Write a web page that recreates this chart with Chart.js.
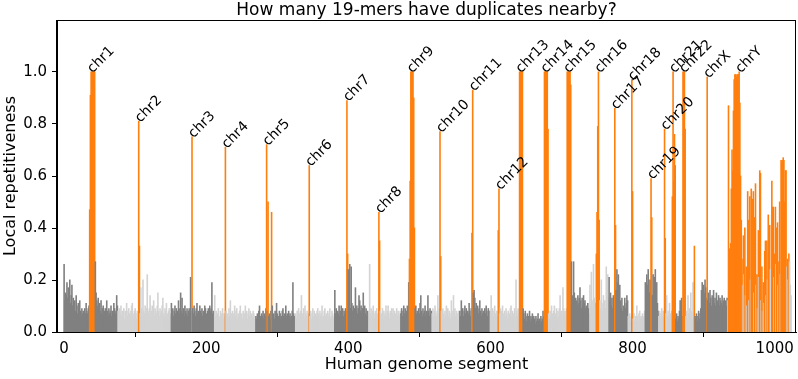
<!DOCTYPE html>
<html>
<head>
<meta charset="utf-8">
<script src="https://cdn.jsdelivr.net/npm/chart.js@4.4.1/dist/chart.umd.min.js"></script>
<style>
  html, body { margin: 0; padding: 0; background: #fff; }
  canvas { display: block; }
</style>
</head>
<body>
<canvas id="chart" width="798" height="379"></canvas>
<script>
// Chromosomes in genome order, and how many segments each one spans
const chromNames = ["chr1","chr2","chr3","chr4","chr5","chr6","chr7","chr8","chr9","chr10","chr11","chr12",
                    "chr13","chr14","chr15","chr16","chr17","chr18","chr19","chr20","chr21","chr22","chrX","chrY"];
const chromSizes = [76,75,61,58,56,55,48,45,44,39,43,41,35,32,32,27,27,24,19,19,15,17,46,90];

// Local repetitiveness of each segment, in hundredths (one row per chromosome)
const repetitiveness = [
  /* chr1  */ 26,12,15,14,19,13,17,12,20,11,14,18,10,13,9,12,8,14,10,7,11,9,12,8,6,9,7,8,6,9,7,11,8,7,9,10,
              47,91,100,100,100,100,100,100,27,15,12,10,13,9,11,8,12,7,9,10,6,8,9,7,12,8,6,9,7,8,10,6,8,7,11,9,7,8,14,10,
  /* chr2  */ 8,6,9,7,10,6,8,7,9,5,8,7,11,6,8,9,7,6,8,10,11,7,6,8,9,7,5,8,6,81,33,7,17,9,6,20,8,7,10,6,
              9,22,8,7,9,14,6,8,10,7,12,6,9,8,7,10,15,8,6,9,7,8,10,13,7,6,9,8,11,7,6,8,9,7,6,
  /* chr3  */ 11,7,9,6,8,10,7,9,6,8,12,7,9,15,8,13,7,9,6,10,8,7,9,6,8,9,7,21,8,75,9,7,10,8,6,9,11,7,8,6,
              10,8,7,9,6,8,7,10,9,7,6,8,9,7,10,8,9,19,7,8,6,
  /* chr4  */ 14,6,8,5,7,9,6,5,8,7,6,9,5,7,6,71,8,6,7,5,9,6,12,7,5,8,6,7,10,6,8,9,5,7,6,8,10,6,7,5,
              8,6,7,10,6,8,5,7,9,6,8,5,7,6,8,7,5,6,
  /* chr5  */ 6,5,7,6,8,10,6,5,7,6,8,5,7,6,9,72,8,50,6,7,5,8,46,10,6,7,5,8,6,11,7,5,6,8,7,5,6,8,9,6,
              7,5,10,6,7,5,8,6,7,5,6,8,19,7,6,5,
  /* chr6  */ 7,5,8,6,9,7,6,8,14,7,6,9,5,10,7,6,8,5,7,64,6,8,5,7,9,6,8,5,7,6,8,9,7,5,8,6,7,10,5,6,
              8,9,6,7,5,8,6,7,9,5,6,8,7,5,6,
  /* chr7  */ 16,7,9,6,8,7,10,6,8,10,7,9,6,8,7,9,8,89,30,24,12,26,9,25,11,8,10,7,9,17,8,10,7,9,14,12,8,10,7,9,
              15,8,10,7,9,6,8,7,
  /* chr8  */ 8,26,7,9,6,8,10,7,5,8,6,9,7,5,46,35,8,6,7,9,5,8,6,7,10,6,8,10,7,5,8,6,9,7,9,6,8,7,5,9,
              6,8,7,6,8,
  /* chr9  */ 7,9,6,8,10,7,9,6,8,10,7,19,28,58,100,100,100,100,90,40,9,10,7,8,6,9,7,11,14,8,6,9,7,8,10,6,8,7,14,8,
              6,9,7,8,
  /* chr10 */ 7,9,6,8,10,7,6,8,14,7,9,77,29,8,6,9,7,5,8,6,10,7,9,6,8,7,5,12,8,6,14,7,9,6,8,7,5,8,6,
  /* chr11 */ 8,6,12,7,9,6,8,10,7,9,6,8,7,11,8,6,9,38,93,15,16,13,9,11,8,10,7,9,12,8,6,9,7,8,6,9,7,10,8,6,
              9,7,8,
  /* chr12 */ 8,14,7,9,6,8,10,7,5,8,6,39,55,7,9,6,8,10,7,5,8,6,9,7,5,8,6,7,9,10,6,8,5,7,9,6,20,8,6,9,
              7,
  /* chr13 */ 100,100,100,100,100,9,7,5,8,6,4,7,5,6,8,4,6,5,7,4,6,5,3,6,4,5,7,4,5,3,6,4,5,8,6,
  /* chr14 */ 100,100,100,100,100,78,7,5,8,6,10,7,5,8,10,6,7,9,5,8,6,9,14,7,8,6,17,9,7,8,6,9,
  /* chr15 */ 100,100,100,100,100,95,27,14,12,27,15,11,13,12,10,14,11,13,17,12,9,13,10,14,11,12,9,10,8,11,9,7,
  /* chr16 */ 18,10,23,12,9,26,13,8,11,30,46,79,100,43,12,9,20,11,8,14,10,12,9,25,11,22,13,
  /* chr17 */ 21,12,15,10,13,9,14,11,86,41,16,24,19,22,15,18,12,9,13,8,10,7,13,9,11,14,12,
  /* chr18 */ 6,5,7,4,6,97,54,5,7,4,6,5,10,6,4,7,8,5,6,4,7,5,6,8,
  /* chr19 */ 19,16,22,18,24,20,15,20,59,44,14,22,17,21,24,16,19,11,8,
  /* chr20 */ 6,8,5,7,9,6,8,5,78,36,7,14,6,8,5,11,7,6,8,
  /* chr21 */ 52,100,58,76,64,5,7,4,6,5,8,12,7,13,6,
  /* chr22 */ 100,100,100,78,6,8,5,14,7,9,6,15,8,5,19,7,33,
  /* chrX  */ 6,5,7,4,6,8,5,7,9,16,19,14,18,15,20,17,13,98,12,15,11,16,13,10,14,12,16,11,13,10,
              15,12,11,14,10,13,12,11,14,10,12,13,11,12,10,13,
  /* chrY  */ 12,87,32,30,34,55,70,62,85,97,99,99,98,99,99,99,100,88,60,43,28,18,37,22,40,14,25,10,54,43,
              12,52,20,55,30,51,54,15,44,57,18,22,9,39,21,62,61,12,25,8,19,11,31,35,14,35,20,45,37,41,
              24,16,58,48,48,21,30,48,26,40,42,18,27,50,22,66,65,66,67,66,50,62,62,25,28,20,30,27,18,14
];

// Segments drawn in orange (centromeres and satellite arrays)
const centromereSegs = [
  36,37,38,39,40,41,42,43, 105,106, 180, 227, 285,287,292, 345, 398,399, 443,444,
  486,487,488,489,490,491,492,493, 529,530, 574,575, 611,612, 641,642,643,644,645,
  676,677,678,679,680,681, 708,709,710,711,712,713, 749,750,751,752,753, 775,776,
  799,800, 826,827, 845,846, 856,857,858,859,860, 871,872,873,874,887, 905,
  935,936,937,938,939,940,941,942,943,944,945,946,947,948,949,950,951,952,953,954,
  956,958,960,962,963,965,967,968,969,970,972,973,975,977,979,980,982,984,986,987,
  989,991,992,993,996,997,998,1000,1001,1003,1004,1006,1007,1009,1010,1011,1012,
  1013,1014,1015,1016,1018,1020
];

const xTicks = [0, 200, 400, 600, 800, 1000];
const yTicks = [0, 0.2, 0.4, 0.6, 0.8, 1.0];

//====================================
// Bar colours: alternate greys per chromosome, orange for centromere segments
const isCentro = new Set(centromereSegs);
const barColors = [];
let seg = 0;
chromSizes.forEach((n, c) => {
  for (let k = 0; k < n; k++, seg++) {
    barColors.push(isCentro.has(seg) ? '#ff7f0e' : (c % 2 === 0 ? '#808080' : '#d3d3d3'));
  }
});

//====================================
// Plugin: chromosome names on the tallest orange bar + the full axes frame
const chromLabels = {
  id: 'chromLabels',
  afterDatasetsDraw(chart) {
    const {ctx, scales: {x, y}} = chart;
    ctx.save();
    ctx.font = '14px "DejaVu Sans"';
    ctx.fillStyle = '#000';
    ctx.textAlign = 'left';
    ctx.textBaseline = 'alphabetic';
    let start = 0;
    chromNames.forEach((name, c) => {
      let best = -1;
      for (let i = start; i < start + chromSizes[c]; i++) {
        if (isCentro.has(i) && (best < 0 || repetitiveness[i] > repetitiveness[best])) best = i;
      }
      start += chromSizes[c];
      if (best < 0) return;
      const px = x.getPixelForValue(best) + 1.5;
      const py = y.getPixelForValue(repetitiveness[best] / 100) + 1.5;
      ctx.save();
      ctx.translate(px, py);
      ctx.rotate(-Math.PI / 4);
      ctx.fillText(name, 0, 0);
      ctx.restore();
    });
    ctx.restore();
  },
  afterDraw(chart) {
    const {ctx, chartArea: a} = chart;
    ctx.save();
    ctx.strokeStyle = '#000';
    ctx.lineWidth = 1;
    ctx.strokeRect(Math.round(a.left) - 0.5, Math.round(a.top) + 0.5,
                   Math.round(a.right) - Math.round(a.left), Math.round(a.bottom) - Math.round(a.top));
    ctx.restore();
  }
};

Chart.defaults.font.family = '"DejaVu Sans"';
Chart.defaults.color = '#000';

const axisLines = { display: true, drawOnChartArea: false, drawTicks: true, tickLength: 5, color: '#000', lineWidth: 1 };

new Chart(document.getElementById('chart'), {
  type: 'bar',
  data: {
    datasets: [{
      data: repetitiveness.map((v, i) => ({x: i, y: v / 100})),
      backgroundColor: barColors,
      borderWidth: 0,
      barPercentage: 1.0,
      categoryPercentage: 1.0,
      inflateAmount: 0.45
    }]
  },
  options: {
    responsive: false,
    devicePixelRatio: 1,
    animation: false,
    layout: { padding: { left: 0, right: 2, top: 0, bottom: 0 } },
    plugins: {
      legend: { display: false },
      tooltip: { enabled: false },
      title: {
        display: true,
        fullSize: false,
        text: 'How many 19-mers have duplicates nearby?',
        font: { size: 17, weight: 'normal', lineHeight: 1 },
        color: '#000',
        padding: { top: 2, bottom: 1 }
      }
    },
    scales: {
      x: {
        type: 'linear',
        min: -10, max: 1030,
        offset: false,
        afterFit(s) { s.height = 47; },
        afterBuildTicks(s) { s.ticks = xTicks.map(v => ({value: v})); },
        ticks: { font: { size: 15 }, padding: 3, maxRotation: 0, autoSkip: false, callback: v => String(v) },
        grid: axisLines,
        border: { display: true, color: '#000', width: 1 },
        title: { display: true, text: 'Human genome segment', font: { size: 16 }, padding: { top: 0, bottom: 5 } }
      },
      y: {
        min: 0, max: 1.2,
        afterFit(s) { s.width = 57; },
        afterBuildTicks(s) { s.ticks = yTicks.map(v => ({value: v})); },
        ticks: { font: { size: 15 }, padding: 5, callback: v => v.toFixed(1) },
        grid: axisLines,
        border: { display: true, color: '#000', width: 1 },
        title: { display: true, text: 'Local repetitiveness', font: { size: 16 }, padding: { top: 1, bottom: 0 } }
      }
    }
  },
  plugins: [chromLabels]
});
</script>
</body>
</html>
